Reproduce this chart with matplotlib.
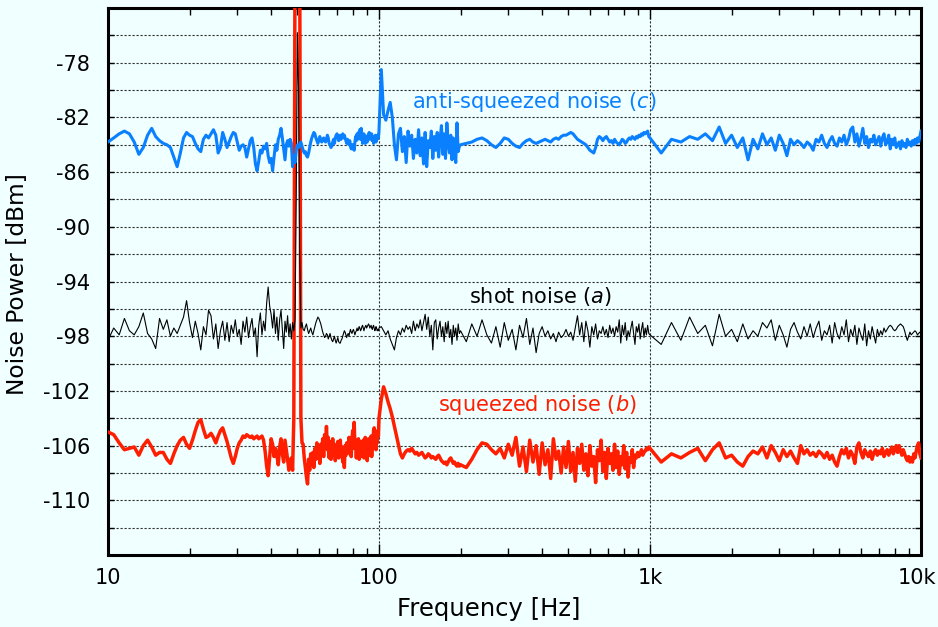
import numpy as np
import matplotlib
matplotlib.use("Agg")
import matplotlib.pyplot as plt
from matplotlib.ticker import FixedLocator, LogLocator, NullFormatter
from matplotlib.transforms import ScaledTranslation

plt.rcParams["axes.unicode_minus"] = False

# sweep segments: start frequency [Hz] and step [Hz]
seg_start = [10.0, 100.0, 200.0, 1000.0]
seg_step = [0.5, 2.0, 10.0, 100.0]

# ---- anti-squeezed noise (c) [dBm] ----
anti_a = [
    -83.8, -83.5, -83.2, -83.0, -83.2, -83.8, -84.7, -84.2, -83.3, -82.8,   # 10-14.5
    -83.4, -83.7, -83.9, -84.0, -84.2, -84.9, -85.6, -84.6, -83.5, -83.1,   # 15-19.5
    -83.3, -83.4, -83.9, -84.3, -84.5, -83.6, -83.3, -83.5, -83.2, -82.9,   # 20-24.5
    -83.3, -84.6, -84.2, -83.1, -83.6, -84.2, -83.8, -83.4, -83.1, -83.2,   # 25-29.5
    -83.8, -84.4, -84.1, -84.0, -84.2, -84.9, -84.3, -83.7, -83.5, -84.2,   # 30-34.5
    -85.4, -85.9, -85.2, -84.4, -84.6, -84.1, -84.3, -83.9, -84.8, -85.3,   # 35-39.5
    -85.0, -85.9, -84.9, -84.0, -84.4, -83.6, -83.3, -82.8, -83.5, -84.3,   # 40-44.5
    -85.1, -84.0, -83.7, -84.1, -83.6, -83.9, -85.6, -84.8, -85.3, -84.4,   # 45-49.5
    -84.0, -84.2, -84.0, -83.8, -84.1, -84.4, -84.6, -84.5, -84.8, -84.9,   # 50-54.5
    -84.6, -84.2, -83.8, -83.5, -83.3, -83.1, -83.2, -83.5, -83.7, -83.9,   # 55-59.5
    -83.6, -83.4, -83.7, -83.8, -83.6, -83.5, -83.7, -83.8, -83.6, -83.3,   # 60-64.5
    -83.5, -83.9, -84.0, -84.2, -84.1, -83.8, -83.6, -83.9, -83.5, -83.3,   # 65-69.5
    -83.2, -83.4, -83.7, -83.4, -83.3, -83.6, -83.4, -83.2, -83.5, -83.3,   # 70-74.5
    -83.5, -83.7, -83.9, -83.6, -83.8, -84.0, -83.7, -84.1, -84.3, -84.0,   # 75-79.5
    -84.3, -84.0, -84.4, -83.8, -83.4, -83.7, -83.2, -83.6, -83.1, -83.5,   # 80-84.5
    -82.9, -83.6, -82.8, -83.4, -83.9, -83.5, -83.2, -83.7, -83.9, -83.4,   # 85-89.5
    -83.6, -83.8, -83.3, -83.5, -83.1, -83.6, -83.4, -83.3, -83.2, -83.7,   # 90-94.5
    -83.5, -83.9, -83.4, -83.6, -83.3, -83.8, -83.4, -83.6, -83.3, -83.5,   # 95-99.5
]
anti_b = [
    -83.0, -78.5, -81.8, -82.2, -81.5, -80.9, -82.0, -84.0, -85.1, -83.2,   # 100-118
    -82.8, -84.5, -83.4, -85.3, -83.0, -84.1, -83.3, -85.0, -83.6, -84.6,   # 120-138
    -82.9, -84.8, -83.5, -85.4, -83.1, -85.6, -83.7, -84.2, -83.0, -85.0,   # 140-158
    -83.4, -84.4, -83.1, -84.9, -83.6, -82.6, -84.7, -83.2, -85.0, -82.4,   # 160-178
    -83.8, -84.6, -83.3, -85.1, -83.5, -84.2, -85.3, -82.4, -84.5, -84.1,   # 180-198
]
anti_c = [
    -84.0, -83.9, -83.8, -83.6, -83.5, -83.7, -84.0, -84.2, -83.9, -83.5,   # 200-290
    -83.6, -83.9, -84.1, -84.2, -83.9, -83.7, -83.6, -83.8, -83.9, -83.8,   # 300-390
    -83.7, -83.6, -83.7, -83.8, -83.6, -83.5, -83.6, -83.4, -83.3, -83.3,   # 400-490
    -83.2, -83.1, -83.2, -83.4, -83.6, -83.7, -83.8, -83.9, -84.0, -84.2,   # 500-590
    -84.4, -84.5, -84.6, -84.2, -83.6, -83.4, -83.5, -83.7, -83.5, -83.4,   # 600-690
    -83.6, -83.8, -83.7, -83.9, -83.6, -83.8, -83.9, -84.0, -83.8, -83.6,   # 700-790
    -83.7, -83.9, -83.8, -83.6, -83.5, -83.6, -83.4, -83.5, -83.6, -83.4,   # 800-890
    -83.5, -83.3, -83.4, -83.2, -83.3, -83.1, -83.2, -83.1, -83.0, -83.4,   # 900-990
]
anti_d = [
    -83.5, -84.6, -83.6, -83.8, -83.4, -83.6, -83.2, -83.7, -82.7, -83.9,   # 1k-1.9k
    -83.3, -84.2, -83.5, -85.1, -83.6, -84.3, -83.2, -84.0, -83.5, -84.4,   # 2k
    -83.3, -83.9, -84.8, -83.6, -84.0, -83.7, -83.9, -84.2, -83.8, -84.0,   # 3k
    -84.4, -83.6, -83.8, -83.3, -83.9, -84.2, -83.7, -83.4, -83.9, -84.1,   # 4k
    -83.5, -83.8, -83.3, -84.0, -83.6, -82.9, -82.7, -83.8, -83.2, -84.1,   # 5k
    -83.5, -82.8, -83.9, -83.4, -84.2, -83.6, -83.8, -83.3, -84.0, -83.7,   # 6k
    -83.4, -84.1, -83.5, -83.2, -84.0, -83.8, -83.3, -84.3, -83.6, -84.0,   # 7k
    -83.5, -84.2, -84.0, -83.8, -84.3, -83.7, -84.1, -83.9, -84.2, -83.6,   # 8k
    -84.0, -83.8, -84.1, -83.7, -84.0, -83.6, -83.9, -83.5, -83.8, -83.4,   # 9k
    -83.0,                                                                  # 10k
]

# ---- shot noise (a) [dBm] ----
shot_a = [
    -98.3, -97.4, -97.9, -96.7, -97.6, -97.9, -97.3, -96.3, -97.8, -98.2,
    -98.9, -96.7, -97.5, -96.8, -98.0, -97.4, -97.8, -97.2, -96.6, -95.4,
    -97.0, -98.1, -96.9, -97.8, -99.0, -97.3, -97.9, -96.1, -96.5, -98.2,
    -97.1, -98.9, -97.6, -96.9, -98.3, -97.0, -98.4, -97.2, -97.8, -96.8,
    -98.0, -97.5, -98.6, -96.9, -97.7, -96.6, -98.1, -97.3, -96.7, -98.0,
    -97.4, -99.5, -97.2, -96.3, -97.9, -96.9, -97.6, -95.6, -94.4, -95.8,
    -96.4, -97.4, -96.1, -97.8, -96.6, -98.3, -96.8, -96.1, -97.5, -98.9,
    -96.9, -97.7, -96.5, -98.0, -97.1, -98.2, -97.0, -97.6, -96.8, -88.0,
    -75.8, -80.0, -92.0, -97.4, -97.0, -97.5, -97.6, -97.3, -97.1, -97.5,
    -97.8, -97.6, -97.4, -97.7, -97.9, -97.6, -97.3, -97.0, -96.8, -96.6,
    -96.7, -96.9, -97.1, -97.4, -97.7, -97.9, -98.1, -98.0, -97.8, -97.9,
    -98.2, -98.0, -97.8, -98.1, -98.3, -98.4, -98.2, -98.0, -98.3, -98.5,
    -98.3, -98.1, -98.4, -98.5, -98.5, -98.3, -98.2, -98.0, -97.8, -97.6,
    -97.7, -97.9, -98.1, -97.9, -97.8, -98.0, -97.7, -97.5, -97.7, -97.8,
    -97.6, -97.5, -97.7, -97.9, -97.7, -97.6, -97.4, -97.6, -97.5, -97.3,
    -97.4, -97.6, -97.5, -97.3, -97.2, -97.4, -97.6, -97.4, -97.3, -97.2,
    -97.4, -97.3, -97.2, -97.1, -97.2, -97.4, -97.3, -97.2, -97.4, -97.5,
    -97.3, -97.2, -97.4, -97.6, -97.5, -97.3, -97.4, -97.6, -97.5, -97.6,
]
shot_b = [
    -97.4, -97.3, -97.6, -97.9, -97.6, -98.2, -98.6, -99.0, -98.1, -97.6,
    -97.9, -97.4, -97.7, -97.2, -97.5, -97.3, -97.8, -96.9, -97.6, -97.1,
    -97.4, -96.8, -97.6, -97.0, -96.4, -97.5, -96.6, -98.0, -97.2, -99.0,
    -97.0, -96.8, -98.2, -97.4, -96.9, -98.0, -97.3, -98.4, -97.0, -97.8,
    -96.9, -98.1, -97.5, -98.6, -97.2, -98.0, -97.4, -98.3, -97.1, -97.8,
]
shot_c = [
    -97.6, -98.4, -97.1, -98.0, -96.8, -97.9, -98.5, -97.3, -98.8, -97.0,
    -98.3, -97.5, -99.0, -97.2, -98.1, -96.7, -98.6, -97.4, -99.2, -97.8,
    -97.3, -98.0, -97.6, -98.2, -97.8, -98.4, -97.7, -98.1, -97.9, -97.5,
    -98.0, -97.7, -98.3, -97.4, -96.5, -97.9, -97.0, -98.4, -96.9, -97.6,
    -98.8, -97.3, -97.9, -97.1, -98.2, -97.6, -97.8, -97.3, -97.9, -97.5,
    -98.1, -97.2, -97.8, -97.4, -98.0, -97.3, -97.7, -96.8, -98.5, -97.2,
    -97.9, -97.0, -98.3, -97.6, -98.0, -97.4, -96.9, -97.8, -98.6, -97.3,
    -97.7, -97.1, -98.2, -97.5, -97.0, -98.1, -97.4, -97.9, -97.2, -97.8,
]
shot_d = [
    -97.9, -98.6, -97.0, -98.3, -96.6, -97.8, -97.2, -98.7, -96.4, -98.0,
    -97.5, -98.4, -97.1, -98.2, -97.6, -98.0, -97.0, -97.4, -96.8, -98.3,
    -97.2, -97.9, -98.8, -97.5, -97.0, -97.7, -98.2, -97.3, -98.0, -97.1,
    -98.1, -97.4, -96.9, -98.3, -97.6, -97.9, -97.2, -98.5, -97.0, -97.8,
    -98.2, -97.3, -97.9, -96.8, -98.4, -97.5, -98.0, -97.2, -98.6, -97.4,
    -97.9, -98.3, -97.1, -98.7, -97.6, -98.2, -97.3, -97.9, -98.5, -97.5,
    -98.0, -97.6, -97.9, -97.4, -97.7, -97.5, -97.3, -97.2, -97.3, -97.5,
    -97.6, -97.5, -97.3, -97.2, -97.1, -97.2, -97.3, -97.6, -98.0, -98.3,
    -98.0, -97.7, -97.9, -97.8, -97.7, -97.6, -97.7, -97.9, -97.8, -97.7,
    -97.8,
]

# ---- squeezed noise (b) [dBm] ----
sqz_a = [
    -105.0, -105.2, -105.8, -106.3, -106.2, -106.1, -106.7, -106.0, -105.6, -106.1,
    -106.7, -106.5, -106.5, -107.0, -107.3, -106.6, -106.0, -105.6, -105.4, -105.9,
    -106.2, -105.6, -104.9, -104.3, -104.1, -104.8, -105.4, -105.3, -105.1, -105.4,
    -105.8, -105.3, -104.9, -104.7, -105.2, -105.7, -106.3, -106.9, -107.3, -106.8,
    -106.2, -105.8, -105.6, -105.3, -105.4, -105.2, -105.3, -105.4, -105.3, -105.5,
    -105.4, -105.3, -105.5, -105.4, -105.3, -105.6, -106.4, -107.5, -108.2, -106.8,
    -105.5, -105.9, -106.8, -106.2, -106.7, -107.4, -106.1, -105.5, -106.6, -107.2,
    -105.6, -106.3, -107.0, -107.8, -107.2, -106.9, -107.8, -104.0, -70.0, -58.0,
    -55.0, -58.0, -70.0, -104.0, -105.8, -105.9, -106.9, -107.6, -108.3, -108.8,
    -107.0, -107.8, -106.6, -107.4, -106.5, -107.6, -106.2, -107.0, -105.8, -106.9,
    -106.0, -107.3, -105.9, -106.6, -105.5, -106.8, -105.2, -106.1, -104.6, -106.3,
    -105.4, -106.9, -105.7, -107.0, -106.2, -105.5, -106.7, -105.9, -107.1, -106.0,
    -106.6, -105.7, -106.9, -106.2, -105.6, -106.8, -106.1, -107.2, -106.4, -107.6,
    -106.0, -106.7, -105.8, -106.5, -106.1, -105.4, -106.6, -105.9, -106.8, -105.5,
    -104.9, -106.2, -104.3, -106.0, -105.6, -106.9, -105.8, -106.4, -105.5, -107.0,
    -106.1, -105.7, -106.8, -105.9, -106.5, -105.6, -106.9, -106.2, -105.4, -106.6,
    -105.8, -107.1, -106.0, -105.5, -106.7, -105.9, -106.4, -105.3, -106.8, -105.7,
    -106.2, -104.9, -104.7, -106.0, -105.4, -106.3, -105.1, -105.8, -104.9, -105.3,
]
sqz_b = [
    -104.0, -102.6, -101.7, -102.2, -102.8, -103.3, -103.9, -104.6, -105.3, -106.0,
    -106.6, -106.9, -106.6, -106.4, -106.3, -106.4, -106.2, -106.4, -106.6, -106.5,
    -106.7, -106.6, -106.5, -106.7, -106.9, -106.8, -106.6, -106.7, -106.9, -106.8,
    -106.9, -107.0, -106.8, -106.7, -106.9, -107.1, -107.2, -107.3, -107.2, -107.4,
    -107.2, -107.0, -106.9, -107.1, -107.3, -107.2, -107.4, -107.5, -107.3, -107.5,
]
sqz_c = [
    -107.4, -107.6, -107.0, -106.3, -105.8, -105.9, -106.3, -106.6, -106.2, -106.9,
    -105.9, -106.7, -105.4, -107.5, -106.1, -107.9, -105.6, -107.2, -106.0, -108.1,
    -105.8, -107.4, -106.3, -108.4, -105.5, -107.0, -106.4, -108.0, -106.1, -107.6,
    -105.7, -107.9, -106.5, -108.6, -106.2, -107.3, -105.9, -107.8, -106.6, -108.2,
    -106.0, -107.5, -106.8, -108.7, -106.3, -107.1, -105.6, -107.9, -106.5, -108.4,
    -106.2, -107.3, -106.6, -107.8, -105.9, -107.6, -106.4, -108.1, -106.8, -107.4,
    -106.0, -107.7, -106.5, -108.3, -106.9, -107.2, -106.3, -107.6, -106.7, -106.9,
    -106.5, -106.8, -106.6, -106.3, -106.7, -106.5, -106.4, -106.2, -106.3, -106.1,
]
sqz_d = [
    -106.2, -107.2, -106.6, -106.9, -106.5, -106.2, -107.1, -106.3, -105.8, -106.9,
    -106.7, -107.2, -107.5, -106.8, -106.4, -106.6, -106.1, -106.9, -106.0, -106.5,
    -107.1, -106.3, -106.8, -106.4, -106.9, -107.3, -106.0, -106.6, -106.3, -106.7,
    -106.5, -106.8, -106.4, -106.6, -106.9, -106.5, -107.0, -106.7, -107.2, -107.5,
    -106.8, -106.3, -106.6, -106.2, -106.9, -106.4, -106.7, -107.3, -106.1, -105.8,
    -106.5, -106.9, -106.3, -106.6, -106.8, -106.4, -107.0, -106.5, -106.3, -106.7,
    -106.4, -106.6, -106.2, -106.8, -106.5, -106.3, -106.7, -106.4, -106.1, -106.6,
    -106.3, -106.0, -106.5, -106.0, -106.4, -106.7, -106.3, -106.6, -106.9, -107.1,
    -106.8, -107.2, -106.9, -107.2, -106.6, -106.9, -106.4, -106.0, -105.8, -106.6,
    -106.9,
]

xtick_vals = [10, 100, 1000, 10000]
xtick_text = ["10", "100", "1k", "10k"]
ytick_vals = [-110, -106, -102, -98, -94, -90, -86, -82, -78]

BG = "#f0ffff"
BLUE = "#0a80ff"
RED = "#ff1e00"


def spectrum(segments):
    f = []
    for start, step, vals in zip(seg_start, seg_step, segments):
        f.append(start + step * np.arange(len(vals)))
    return np.concatenate(f), np.concatenate([np.asarray(v) for v in segments])


f_sqz, p_sqz = spectrum([sqz_a, sqz_b, sqz_c, sqz_d])
f_shot, p_shot = spectrum([shot_a, shot_b, shot_c, shot_d])
f_anti, p_anti = spectrum([anti_a, anti_b, anti_c, anti_d])

fig = plt.figure(figsize=(9.38, 6.27), dpi=100, facecolor=BG)
ax = fig.add_axes([0.1151, 0.1148, 0.8668, 0.8724], facecolor=BG)

ax.plot(f_sqz, p_sqz, color=RED, lw=2.5, zorder=3)
ax.plot(f_shot, p_shot, color="black", lw=0.8, zorder=4)
ax.plot(f_anti, p_anti, color=BLUE, lw=2.2, zorder=5)

ax.set_xscale("log")
ax.set_xlim(10, 10000)
ax.set_ylim(-114, -74)

ax.xaxis.set_major_locator(FixedLocator(xtick_vals))
ax.set_xticklabels(xtick_text)
ax.xaxis.set_minor_locator(LogLocator(base=10, subs=np.arange(2, 10)))
ax.xaxis.set_minor_formatter(NullFormatter())
ax.yaxis.set_major_locator(FixedLocator(ytick_vals))
ax.yaxis.set_minor_locator(FixedLocator(np.arange(-112, -74, 2)))

grid_kw = dict(color="#303030", lw=0.8, linestyle=(0, (2, 1.6)))
ax.grid(True, which="major", axis="x", **grid_kw)
ax.grid(True, which="both", axis="y", **grid_kw)

ax.tick_params(axis="both", which="both", direction="in", top=True, right=True,
               labelsize=15, colors="black")
ax.tick_params(axis="x", which="major", length=8, width=1, pad=9)
ax.tick_params(axis="x", which="minor", length=5, width=1)
ax.tick_params(axis="y", which="both", length=4, width=1, pad=13)

for s in ax.spines.values():
    s.set_linewidth(2.2)

ax.set_xlabel("Frequency [Hz]", fontsize=17.5)
ax.xaxis.set_label_coords(0.4686, -0.077)
ax.set_ylabel("Noise Power [dBm]", fontsize=16.8)
ax.yaxis.set_label_coords(-0.097, 0.495)

ax.text(132, -80.9, "anti-squeezed noise ($\\mathit{c}$)", color=BLUE,
        fontsize=15, ha="left", va="center", zorder=6)
ax.text(215, -95.1, "shot noise ($\\mathit{a}$)", color="black",
        fontsize=15, ha="left", va="center", zorder=6)
ax.text(165, -103.0, "squeezed noise ($\\mathit{b}$)", color=RED,
        fontsize=15, ha="left", va="center", zorder=6)

# keep the last tick label inside the canvas
last = ax.get_xticklabels()[-1]
last.set_transform(last.get_transform() + ScaledTranslation(-3 / 72, 0, fig.dpi_scale_trans))

fig.savefig("out.png", dpi=100, facecolor=BG)
